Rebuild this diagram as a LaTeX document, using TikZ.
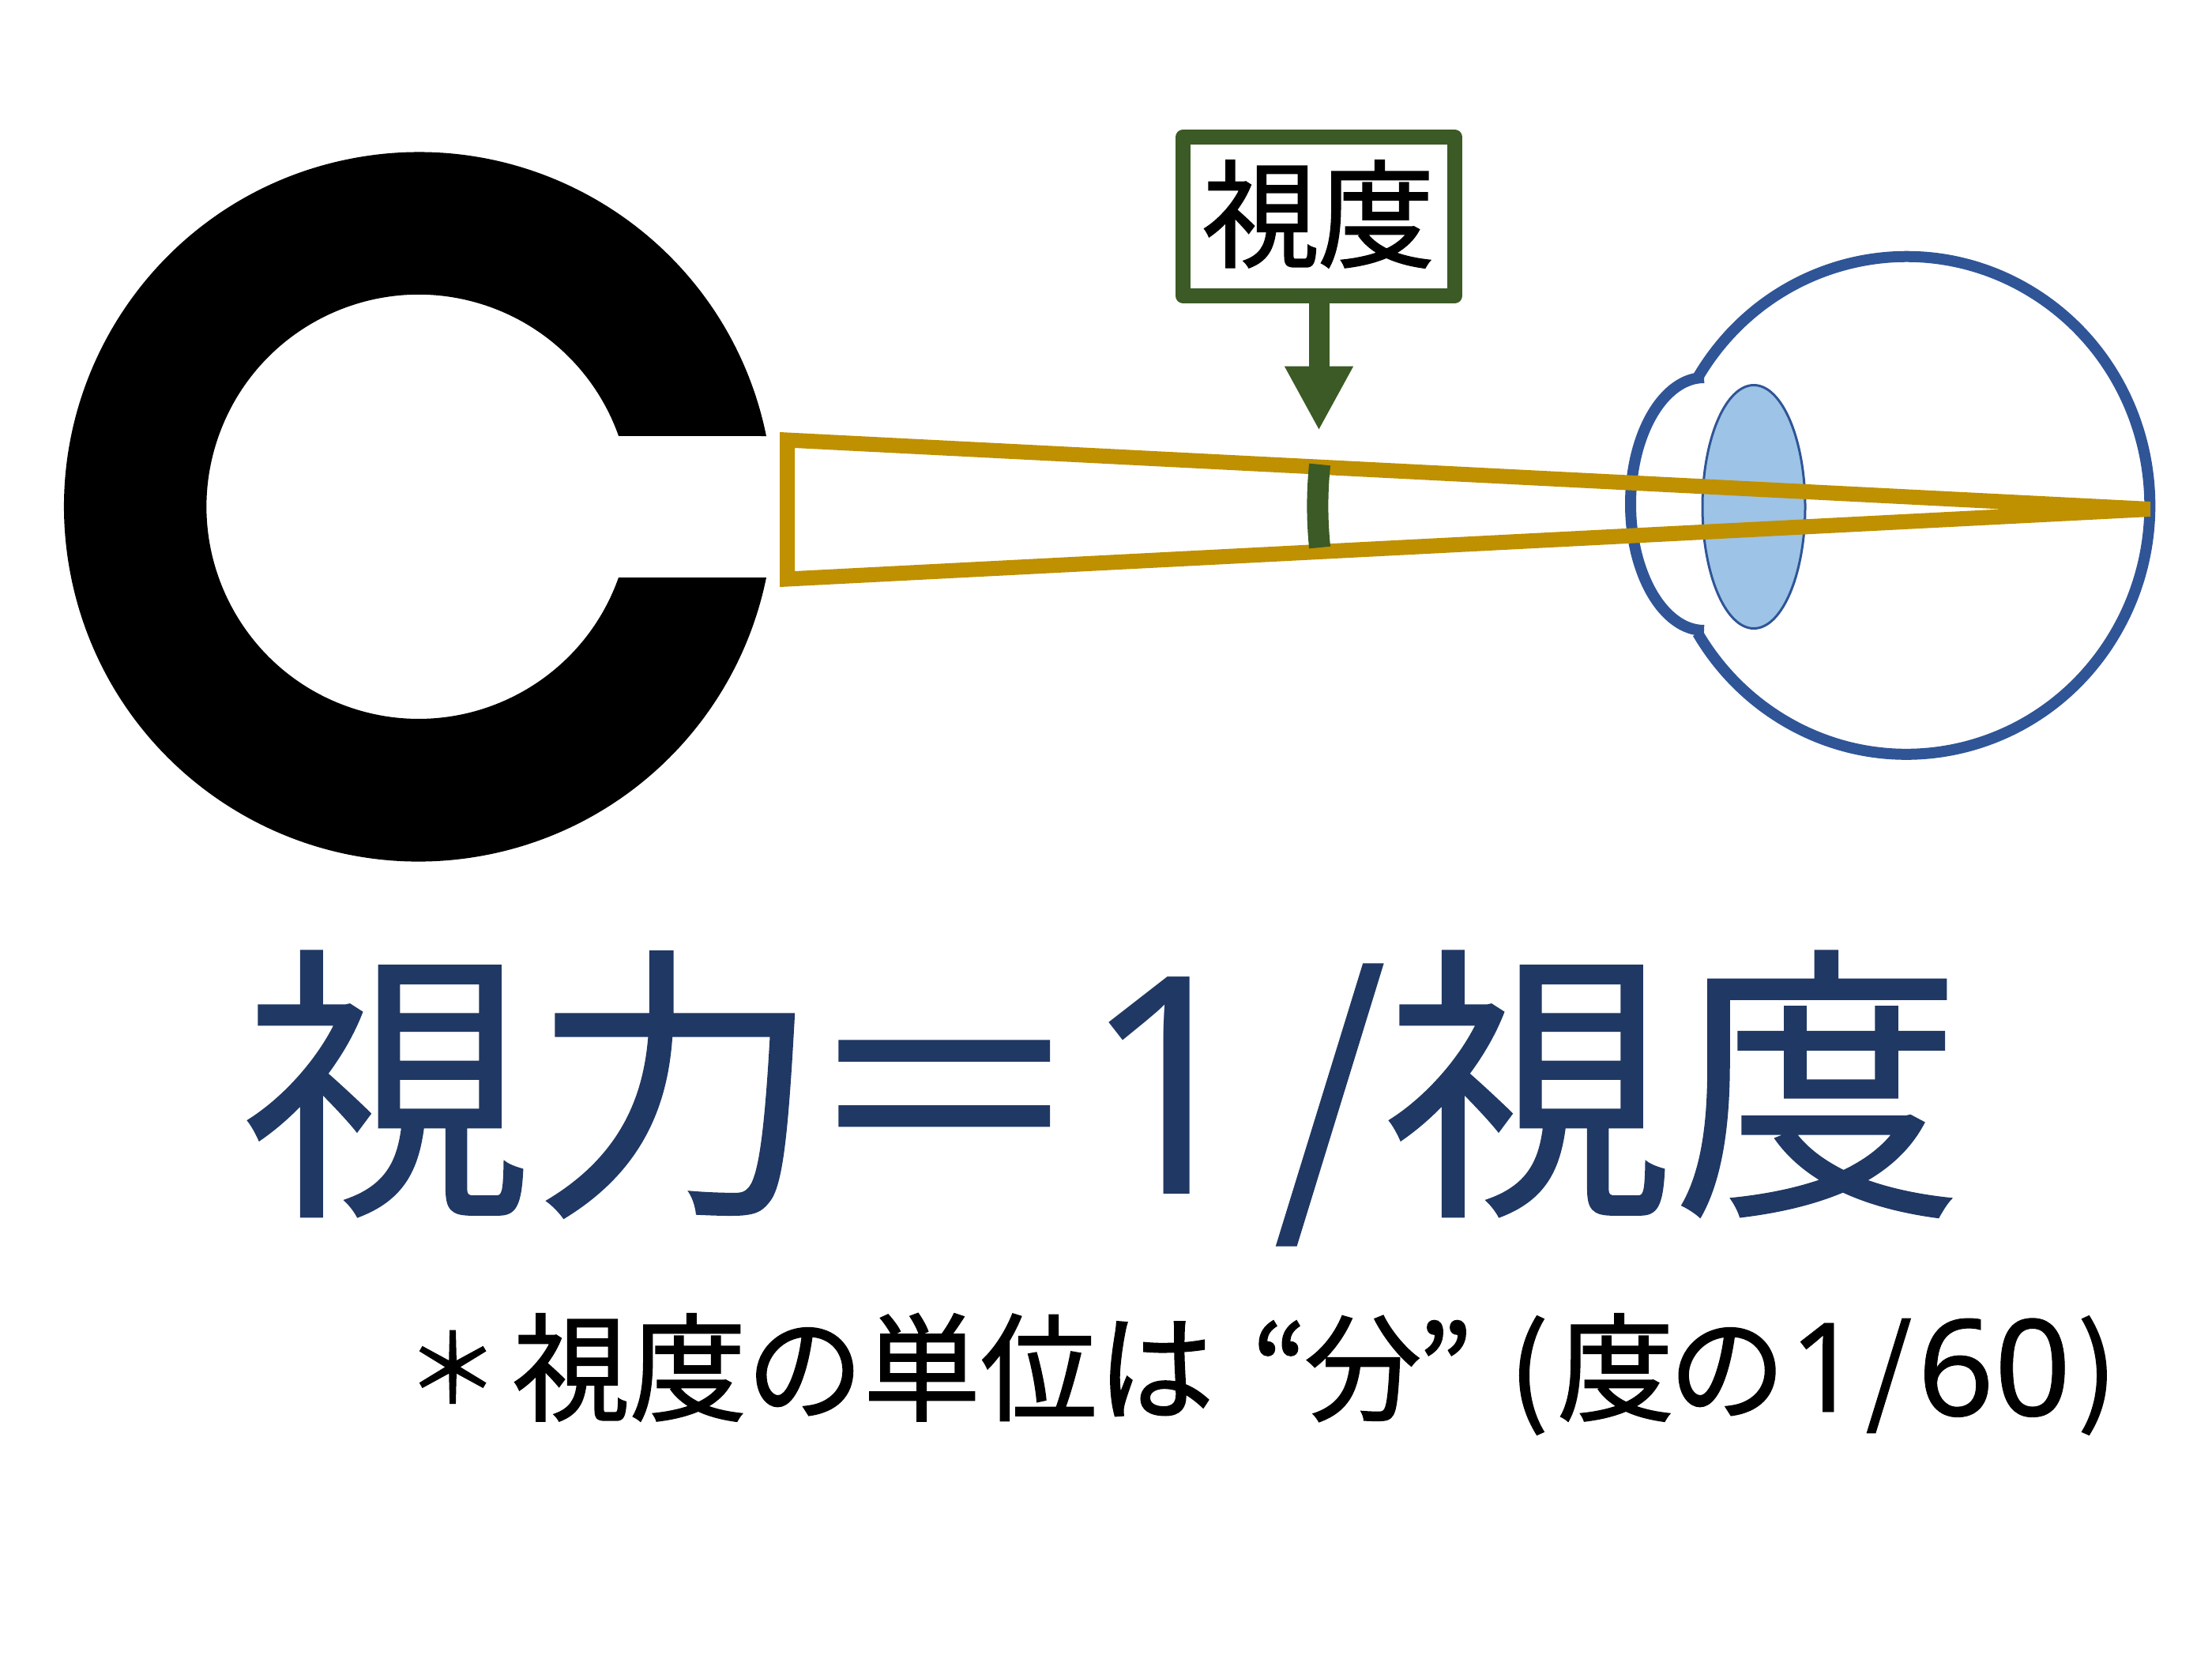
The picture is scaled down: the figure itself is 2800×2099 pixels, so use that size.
\documentclass[tikz,border=0pt]{standalone}
\usepackage{fontspec}
\usetikzlibrary{arrows.meta}
\newfontfamily\cjk[FakeBold=0.6]{Noto Sans CJK JP}
\newfontfamily\cjks[FakeBold=1.2]{Noto Sans CJK JP}
\newfontfamily\dig{Noto Sans}
\newfontfamily\digs[FakeBold=0.5]{Noto Sans}
\definecolor{gold}{HTML}{BF9000}
\definecolor{leaf}{HTML}{3B5A25}
\definecolor{eyeblue}{HTML}{2F5597}
\definecolor{lens}{HTML}{9DC3E6}
\definecolor{navy}{HTML}{203864}
\newcommand{\fs}[1]{\fontsize{#1pt}{#1pt}\selectfont}
\tikzset{
  eyeline/.style={draw=eyeblue,line width=14pt},
  label/.style={inner sep=0pt,outer sep=0pt,anchor=base west},
}
\begin{document}
\begin{tikzpicture}[x=1pt,y=-1pt]
\useasboundingbox (0,0) rectangle (2800,2099);
% Landolt C
\fill[black] (970,552) arc[start angle=11.5,end angle=348.5,radius=449pt]
  -- (783,731) arc[start angle=340.5,end angle=19.5,radius=268.5pt] -- cycle;
% eye
\draw[eyeline] (2149,478) arc[start angle=149.1,end angle=-149.1,x radius=308pt,y radius=315pt];
\draw[eyeline] (2157,478) arc[start angle=90,end angle=270,x radius=93pt,y radius=160pt];
\draw[draw=eyeblue,fill=lens,line width=3pt] (2220,641.5) ellipse[x radius=65pt,y radius=154pt];
% visual angle
\fill[gold,even odd rule] (987,547) -- (2722,635) -- (2722,654) -- (987,743) -- cycle
  (1006,567) -- (2534,644.5) -- (1006,723) -- cycle;
\draw[leaf,line width=27pt] (1670.6,588) .. controls (1667,623) and (1667,658) .. (1670.6,693);
% label box
\node[draw=leaf,line width=19pt,line join=round,fill=white,minimum width=344pt,minimum height=201pt,inner sep=0pt,outer sep=0pt] (box) at (1669.5,274) {};
\node[label] (boxtext) at (1522,327) {\cjks\fs{148}視\kern-2pt度};
\coordinate (tip) at (1669.5,545);
\draw[leaf,line width=26pt,-{Triangle[width=81pt,length=81.5pt]}] (box.south) -- (tip);
% formula
\node[label,text=navy] (formula) at (307,1511) {\cjk\fs{366}視力\kern-27pt ＝\kern-9pt{\dig\fs{385}1}\kern23pt /\kern-4pt 視\kern0pt 度};
\node[label] (note) at (513,1787) {\cjks\fs{148}\raisebox{11pt}{\fs{120}＊}\kern16pt 視度の単位は\kern48pt “\kern-4pt 分\kern-5pt ”\kern46pt (\kern11pt 度\kern-7pt の\kern5pt{\digs\fs{157}1}\kern7pt /\kern7pt\raisebox{-5pt}{\digs\fs{170}60}\kern8pt )};
\end{tikzpicture}
\end{document}
